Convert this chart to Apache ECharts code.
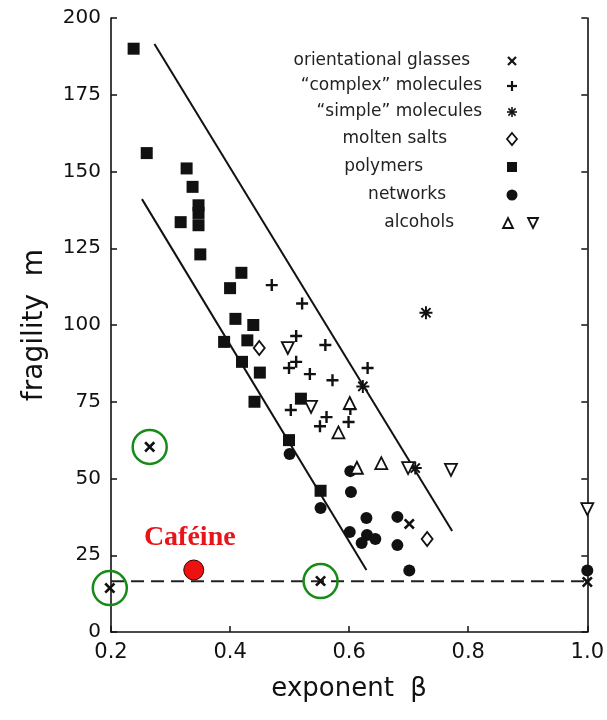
<!DOCTYPE html>
<html>
<head>
<meta charset="utf-8">
<script src="https://cdn.jsdelivr.net/npm/echarts@6/dist/echarts.min.js"></script>
<style>html,body{margin:0;padding:0;background:#fff}#c{width:607px;height:720px}</style>
</head>
<body>
<div id="c"></div>
<script>
// ---- data: [beta, fragility m] ----
const xTicks = [0.2, 0.4, 0.6, 0.8, 1.0];
const yTicks = [0, 25, 50, 75, 100, 125, 150, 175, 200];
const orientationalGlasses = [[0.265,60.3],[0.198,14.3],[0.552,16.6],[0.701,35.2],[1.0,16.3]];
const complexMolecules = [[0.470,113],[0.521,107],[0.511,96.4],[0.560,93.5],[0.631,86],[0.511,88],[0.499,86],[0.534,84],[0.572,82],[0.502,72.3],[0.562,70],[0.551,67],[0.599,68.4],[0.602,72.6]];
const simpleMolecules = [[0.729,104],[0.623,80],[0.711,53.4]];
const moltenSalts = [[0.449,92.5],[0.731,30.3]];
const polymers = [[0.238,190],[0.260,156],[0.327,151],[0.337,145],[0.347,139],[0.347,136.5],[0.347,132.5],[0.317,133.5],[0.350,123],[0.419,117],[0.400,112],[0.409,102],[0.439,100],[0.429,95],[0.390,94.5],[0.420,88],[0.450,84.5],[0.441,75],[0.519,76],[0.499,62.5],[0.552,46]];
const networks = [[0.500,58],[0.552,40.4],[0.602,52.4],[0.603,45.6],[0.629,37.1],[0.681,37.5],[0.601,32.6],[0.630,31.6],[0.644,30.3],[0.621,29],[0.681,28.3],[0.701,20],[1.0,20]];
const alcoholsUp = [[0.601,74.6],[0.582,65],[0.654,55],[0.613,53.5]];
const alcoholsDown = [[0.497,92.5],[0.536,73.3],[0.699,53.4],[0.771,52.8],[1.0,40]];
const upperBound = [[0.273,191.5],[0.773,32.9]];
const lowerBound = [[0.252,141],[0.629,20.2]];
const strongLimit = [[0.2,16.5],[1.0,16.5]];
const highlighted = [[0.265,60.3],[0.198,14.3],[0.552,16.6]];
const cafeine = [[0.339,20.2]];
const legendNames = ['orientational glasses','\u201ccomplex\u201d molecules','\u201csimple\u201d molecules','molten salts','polymers','networks','alcohols'];

// ---- symbol shapes ----
function starPath(n, R, w) {
  const pts = [];
  for (let k = 0; k < n; k++) {
    const t = k * 2 * Math.PI / n;
    const dx = Math.cos(t), dy = Math.sin(t), nx = -dy, ny = dx;
    pts.push([R*dx - w*nx, R*dy - w*ny]);
    pts.push([R*dx + w*nx, R*dy + w*ny]);
    const ti = t + Math.PI / n, ri = w / Math.sin(Math.PI / n);
    pts.push([ri*Math.cos(ti), ri*Math.sin(ti)]);
  }
  return 'path://M' + pts.map(p => (p[0]+R).toFixed(3) + ',' + (p[1]+R).toFixed(3)).join('L') + 'Z';
}
const plusSym = starPath(4, 5, 1);
const starSym = starPath(8, 5, 0.75);

const chart = echarts.init(document.getElementById('c'), null, {renderer: 'canvas'});
const FONT = 'DejaVu Sans';
const black = '#111';

function scatter(name, data, symbol, size, extra) {
  return Object.assign({
    type: 'scatter', name, data, symbol, symbolSize: size, clip: false,
    itemStyle: {color: black, opacity: 1}, z: 5
  }, extra || {});
}
const hollow = {color: '#fff', borderColor: black, borderWidth: 1.8, opacity: 1};

// legend drawn as graphic
const legRows = [61, 86, 112, 139, 167, 195, 223];
const legRight = [470, 482, 482, 447, 423, 446, 454];
const graphics = [];
legendNames.forEach((t, i) => {
  graphics.push({type: 'text', x: legRight[i], y: legRows[i], style: {text: t, font: '17px "' + FONT + '"', fill: '#222', textAlign: 'right', textVerticalAlign: 'middle'}});
});
const sx = 512, ls = {stroke: black, lineWidth: 2.2};
graphics.push({type: 'line', shape: {x1: sx-4, y1: legRows[0]-4, x2: sx+4, y2: legRows[0]+4}, style: ls});
graphics.push({type: 'line', shape: {x1: sx-4, y1: legRows[0]+4, x2: sx+4, y2: legRows[0]-4}, style: ls});
graphics.push({type: 'line', shape: {x1: sx-5, y1: legRows[1], x2: sx+5, y2: legRows[1]}, style: ls});
graphics.push({type: 'line', shape: {x1: sx, y1: legRows[1]-5, x2: sx, y2: legRows[1]+5}, style: ls});
[[5,0],[0,5],[3.6,3.6],[3.6,-3.6]].forEach(d => graphics.push({type: 'line', shape: {x1: sx-d[0], y1: legRows[2]-d[1], x2: sx+d[0], y2: legRows[2]+d[1]}, style: {stroke: black, lineWidth: 1.6}}));
graphics.push({type: 'polygon', shape: {points: [[sx, legRows[3]-6],[sx+5, legRows[3]],[sx, legRows[3]+6],[sx-5, legRows[3]]]}, style: {fill: '#fff', stroke: black, lineWidth: 1.8}});
graphics.push({type: 'rect', shape: {x: sx-5, y: legRows[4]-5, width: 10, height: 10}, style: {fill: black}});
graphics.push({type: 'circle', shape: {cx: sx, cy: legRows[5], r: 5.5}, style: {fill: black}});
graphics.push({type: 'polygon', shape: {points: [[508, legRows[6]-5],[513, legRows[6]+5],[503, legRows[6]+5]]}, style: {fill: '#fff', stroke: black, lineWidth: 1.8}});
graphics.push({type: 'polygon', shape: {points: [[533, legRows[6]+5],[538, legRows[6]-5],[528, legRows[6]-5]]}, style: {fill: '#fff', stroke: black, lineWidth: 1.8}});

const axisCommon = {
  axisLine: {show: true, lineStyle: {color: black, width: 1.6}},
  axisTick: {show: true, inside: true, length: 6, lineStyle: {color: black, width: 1.5}},
  splitLine: {show: false}
};

chart.setOption({
  animation: false,
  backgroundColor: '#fff',
  grid: {left: 111, right: 17, top: 18, bottom: 88},
  xAxis: Object.assign({
    type: 'value', min: xTicks[0], max: xTicks[xTicks.length-1], interval: 0.2,
    axisLabel: {fontSize: 21, color: black, fontFamily: FONT, margin: 10, formatter: v => v.toFixed(1)},
    name: 'exponent  \u03b2', nameLocation: 'middle', nameGap: 44,
    nameTextStyle: {fontSize: 26, color: black, fontFamily: FONT}
  }, axisCommon),
  yAxis: [Object.assign({
    type: 'value', min: yTicks[0], max: yTicks[yTicks.length-1], interval: 25,
    axisLabel: {fontSize: 20, color: black, fontFamily: FONT, margin: 10},
    name: 'fragility  m', nameLocation: 'middle', nameGap: 62,
    nameTextStyle: {fontSize: 28, color: black, fontFamily: FONT}
  }, axisCommon), Object.assign({
    type: 'value', position: 'right', min: yTicks[0], max: yTicks[yTicks.length-1], interval: 25,
    axisLabel: {show: false}
  }, axisCommon)],
  graphic: graphics,
  series: [
    {type: 'line', data: upperBound, symbol: 'none', lineStyle: {color: black, width: 2}, z: 2},
    {type: 'line', data: lowerBound, symbol: 'none', lineStyle: {color: black, width: 2}, z: 2},
    {type: 'line', data: strongLimit, symbol: 'none', lineStyle: {color: '#222', width: 2, type: [13, 7]}, z: 2},
    scatter(legendNames[0], orientationalGlasses, plusSym, 13, {symbolRotate: 45}),
    scatter(legendNames[1], complexMolecules, plusSym, 12),
    scatter(legendNames[2], simpleMolecules, starSym, 13),
    scatter(legendNames[3], moltenSalts, 'diamond', [11, 14], {itemStyle: hollow}),
    scatter(legendNames[4], polymers, 'rect', 12),
    scatter(legendNames[5], networks, 'circle', 12),
    scatter('alcohols up', alcoholsUp, 'triangle', 12, {itemStyle: hollow}),
    scatter('alcohols down', alcoholsDown, 'triangle', 12, {itemStyle: hollow, symbolRotate: 180}),
    scatter('highlight', highlighted, 'circle', 34, {itemStyle: {color: 'rgba(0,0,0,0)', borderColor: '#188a18', borderWidth: 2.5, opacity: 1}, z: 6}),
    scatter('Caféine', cafeine, 'circle', 20, {
      itemStyle: {color: '#ee1111', borderColor: '#300', borderWidth: 1, opacity: 1}, z: 7,
      label: {show: true, formatter: 'Caféine', position: 'top', distance: 8, offset: [-4, 0],
        color: '#e8141a', fontSize: 28, fontWeight: 'bold', fontFamily: 'Liberation Serif'}
    })
  ]
});
</script>
</body>
</html>
